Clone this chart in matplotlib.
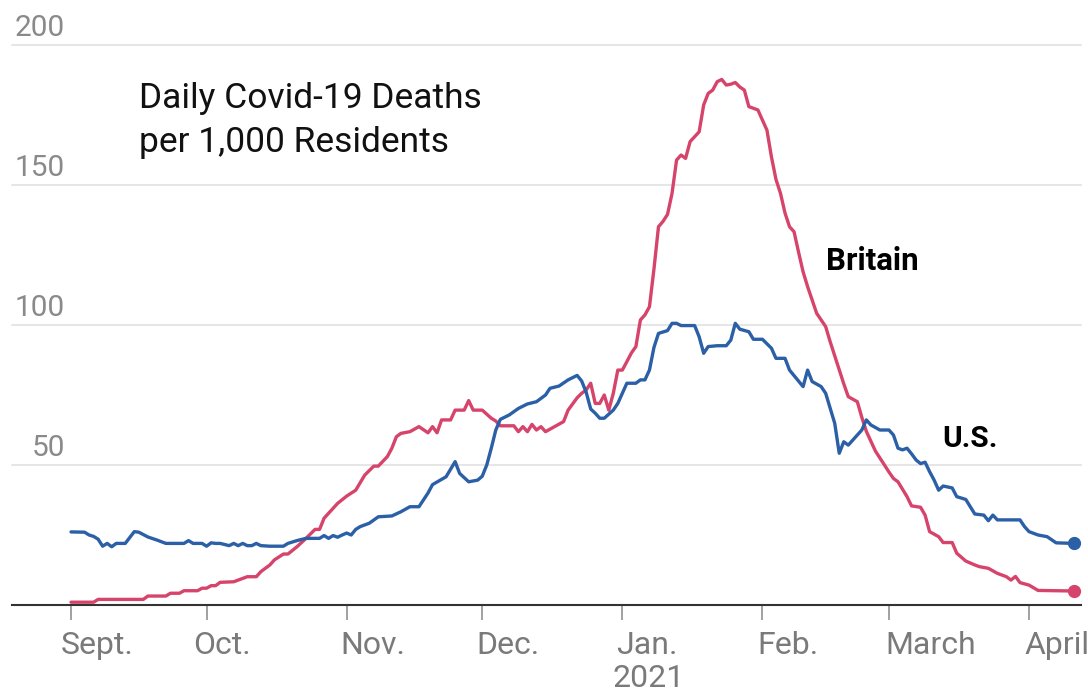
import matplotlib
matplotlib.use("Agg")
import matplotlib.pyplot as plt
import matplotlib.transforms as mtransforms
import pandas as pd

# ---- data: days since Sept. 1, 2020 and daily deaths ----
start_date = "2020-09-01"

britain_day = [0, 5, 6, 16, 17, 21, 22, 24, 25, 28, 29, 30, 31, 32, 33, 36, 39, 41,
               42, 44, 45, 47, 48, 50, 52, 54, 55, 56, 58, 59, 61, 63, 65, 67, 68,
               70, 71, 72, 73, 75, 77, 79, 80, 81, 82, 84, 85, 87, 88, 89, 91, 93,
               94, 95, 98, 99, 100, 101, 102, 103, 104, 105, 107, 109, 110, 112,
               113, 114, 115, 116, 117, 118, 119, 120, 121, 122, 123, 124, 125,
               126, 127, 128, 129, 130, 131, 132, 133, 134, 135, 136, 137, 139,
               140, 141, 142, 143, 144, 145, 146, 147, 148, 149, 150, 151, 152,
               154, 155, 156, 157, 158, 159, 160, 161, 162, 163, 164, 165, 167,
               168, 169, 170, 171, 172, 174, 175, 176, 177, 178, 179, 180, 181,
               182, 183, 185, 186, 188, 189, 190, 192, 193, 195, 196, 198, 200,
               201, 203, 205, 207, 208, 209, 210, 212, 214, 222]
britain_deaths = [1.0, 1.0, 2.0, 2.0, 3.2, 3.2, 4.2, 4.2, 5.1, 5.1, 6.0, 6.0, 6.9,
                  6.9, 8.1, 8.3, 10.1, 10.1, 11.9, 14.3, 16.1, 18.2, 18.2, 20.8,
                  23.8, 27.0, 27.0, 31.0, 34.5, 36.3, 38.9, 41.0, 46.4, 49.6, 49.6,
                  53.0, 56.0, 60.1, 61.3, 61.9, 63.7, 61.5, 63.7, 61.5, 66.1, 66.1,
                  69.6, 69.6, 73.0, 69.6, 69.6, 66.7, 65.7, 64.0, 64.0, 61.9, 63.7,
                  61.9, 64.5, 62.5, 63.7, 61.9, 63.7, 65.5, 69.6, 74.0, 75.6, 76.8,
                  79.2, 72.0, 72.0, 75.0, 69.6, 75.6, 83.9, 83.9, 86.9, 90.0, 92.3,
                  101.8, 103.6, 106.5, 120.0, 135.1, 137.0, 139.5, 147.0, 158.9,
                  160.7, 159.5, 165.5, 169.0, 178.6, 182.7, 183.9, 186.9, 187.7,
                  185.7, 186.0, 186.6, 185.0, 183.9, 178.0, 177.4, 176.8, 169.6,
                  160.0, 152.0, 147.0, 140.0, 135.1, 133.3, 126.0, 119.0, 113.7,
                  109.0, 104.2, 99.4, 94.0, 89.0, 84.0, 79.0, 74.4, 72.6, 67.0,
                  62.0, 58.5, 55.0, 52.5, 50.0, 47.5, 45.2, 44.0, 38.7, 35.4, 34.9,
                  32.1, 26.2, 24.4, 22.3, 22.3, 18.5, 15.7, 14.3, 13.7, 13.1, 11.3,
                  10.1, 8.9, 10.2, 8.0, 7.1, 5.2, 5.0]

us_day = [0, 3, 4, 5, 6, 7, 8, 9, 10, 12, 14, 15, 17, 19, 21, 25, 26, 27, 29, 30,
          31, 32, 33, 35, 36, 37, 38, 39, 40, 41, 42, 44, 47, 48, 50, 52, 55, 56,
          57, 58, 59, 60, 61, 62, 63, 64, 66, 68, 71, 73, 75, 77, 79, 80, 83, 85,
          86, 88, 90, 91, 92, 93, 94, 95, 97, 99, 101, 103, 105, 106, 108, 110,
          112, 113, 114, 115, 116, 117, 118, 120, 121, 122, 123, 125, 126, 127,
          128, 129, 130, 132, 133, 134, 135, 138, 139, 140, 141, 143, 145, 146,
          147, 148, 150, 151, 153, 155, 156, 158, 159, 162, 163, 164, 166, 167,
          169, 170, 171, 172, 173, 175, 176, 177, 179, 181, 182, 183, 184, 185,
          186, 187, 188, 189, 190, 191, 192, 193, 195, 196, 198, 199, 200, 202,
          203, 204, 205, 210, 211, 212, 214, 216, 218, 222]
us_deaths = [26.1, 26.0, 25.0, 24.5, 23.5, 21.0, 22.0, 20.8, 22.0, 22.0, 26.2, 26.0,
             24.3, 23.2, 22.0, 22.0, 23.0, 22.0, 22.0, 21.0, 22.2, 22.0, 22.0, 21.2,
             22.0, 21.2, 22.0, 21.2, 21.2, 22.0, 21.2, 21.0, 21.0, 22.0, 23.0, 23.8,
             23.8, 24.8, 23.8, 24.8, 24.2, 25.0, 25.7, 25.0, 27.0, 28.0, 29.2, 31.5,
             31.8, 33.3, 35.1, 35.1, 40.0, 43.0, 45.8, 51.2, 47.0, 44.0, 44.6, 46.0,
             50.0, 56.0, 62.5, 66.3, 67.9, 70.2, 71.8, 72.6, 75.0, 77.4, 78.2, 80.4,
             82.0, 80.0, 76.0, 70.0, 68.5, 66.7, 66.7, 69.6, 72.0, 75.6, 79.2, 79.2,
             80.4, 80.4, 83.9, 92.0, 97.0, 98.0, 100.6, 100.6, 99.8, 99.8, 95.8,
             89.9, 92.3, 92.6, 92.6, 94.6, 100.6, 98.5, 97.6, 94.9, 94.9, 91.7,
             88.1, 88.1, 83.9, 78.0, 83.9, 79.8, 78.0, 75.6, 64.9, 54.2, 58.3, 57.1,
             58.9, 62.5, 66.1, 64.3, 62.5, 62.5, 60.7, 56.0, 55.4, 56.0, 54.0, 51.8,
             50.5, 51.0, 47.6, 44.6, 41.0, 42.5, 41.8, 38.7, 37.7, 35.1, 32.5, 32.1,
             30.1, 32.1, 30.4, 30.4, 28.0, 26.2, 25.0, 24.4, 22.2, 22.0]

month_ticks = ["2020-09-01", "2020-10-01", "2020-11-01", "2020-12-01",
               "2021-01-01", "2021-02-01", "2021-03-01", "2021-04-01"]
month_labels = ["Sept.", "Oct.", "Nov.", "Dec.", "Jan.", "Feb.", "March", "April"]
y_ticks = [50, 100, 150, 200]

# ---- styling ----
RED = "#d6436b"
BLUE = "#2b5fa6"
plt.rcParams["font.family"] = ["Roboto", "DejaVu Sans"]

# horizontal nudges (px) of each month label relative to its tick
label_nudge = [-10.5, -13, -6, -6, -6, -5, -4, -5]

t0 = pd.Timestamp(start_date)
britain_x = t0 + pd.to_timedelta(britain_day, unit="D")
us_x = t0 + pd.to_timedelta(us_day, unit="D")

W, H = 1088, 692
fig = plt.figure(figsize=(W / 100, H / 100), dpi=100)
ax = fig.add_axes([12 / W, 1 - 605 / H, (1081 - 12) / W, (605 - 45) / H])

ax.set_xlim(t0 - pd.Timedelta(days=13.06), t0 + pd.Timedelta(days=223.5))
ax.set_ylim(0, 200)

for v in y_ticks:
    ax.axhline(v, color="#e1e1e1", lw=1.2, zorder=0, clip_on=False)

ax.plot(britain_x, britain_deaths, color=RED, lw=2.4, solid_joinstyle="round",
        solid_capstyle="round", zorder=3)
ax.plot(us_x, us_deaths, color=BLUE, lw=2.4, solid_joinstyle="round",
        solid_capstyle="round", zorder=4)
ax.plot(britain_x[-1:], britain_deaths[-1:], "o", color=RED, ms=8.5, zorder=5)
ax.plot(us_x[-1:], us_deaths[-1:], "o", color=BLUE, ms=8.5, zorder=5)

for s in ["top", "right", "left"]:
    ax.spines[s].set_visible(False)
ax.spines["bottom"].set_color("#333333")
ax.spines["bottom"].set_linewidth(1.5)
ax.spines["bottom"].set_zorder(2)

tick_dates = pd.to_datetime(month_ticks)
ax.set_xticks(tick_dates)
ax.set_xticklabels([])
ax.tick_params(axis="x", length=10.5, width=1.1, color="#888888", direction="out")
ax.set_yticks([])

# month labels, left-aligned just before each tick
xlab_tr = mtransforms.blended_transform_factory(ax.transData, ax.transAxes)
for d, lab, dx in zip(tick_dates, month_labels, label_nudge):
    off = mtransforms.ScaledTranslation(dx / 100, -49 / 100, fig.dpi_scale_trans)
    ax.text(d, 0, lab, transform=xlab_tr + off, ha="left", va="baseline",
            fontsize=23, color="#7a7a7a")
year_off = mtransforms.ScaledTranslation(-10 / 100, -82 / 100, fig.dpi_scale_trans)
ax.text(tick_dates[4], 0, "2021", transform=xlab_tr + year_off, ha="left",
        va="baseline", fontsize=23, color="#7a7a7a")

# value labels sitting above each gridline
ylab_tr = mtransforms.blended_transform_factory(ax.transAxes, ax.transData)
ylab_off = mtransforms.ScaledTranslation(0, 9 / 100, fig.dpi_scale_trans)
for v in y_ticks:
    ax.text((65 - 12) / (1081 - 12), v, str(v), transform=ylab_tr + ylab_off,
            ha="right", va="baseline", fontsize=21.5, color="#8a8a8a")

fig.text(139 / W, 1 - 108 / H, "Daily Covid-19 Deaths", ha="left",
         va="baseline", fontsize=25.5, color="#111111")
fig.text(139 / W, 1 - 152 / H, "per 1,000 Residents", ha="left",
         va="baseline", fontsize=25.5, color="#111111")

fig.text(826 / W, 1 - 270 / H, "Britain", ha="left", va="baseline",
         fontsize=22.5, fontweight="bold", color="#000000")
fig.text(942 / W, 1 - 446.7 / H, "U.S.", ha="left", va="baseline",
         fontsize=21.5, fontweight="bold", color="#000000")

fig.savefig("out.png", dpi=100, facecolor="white")
